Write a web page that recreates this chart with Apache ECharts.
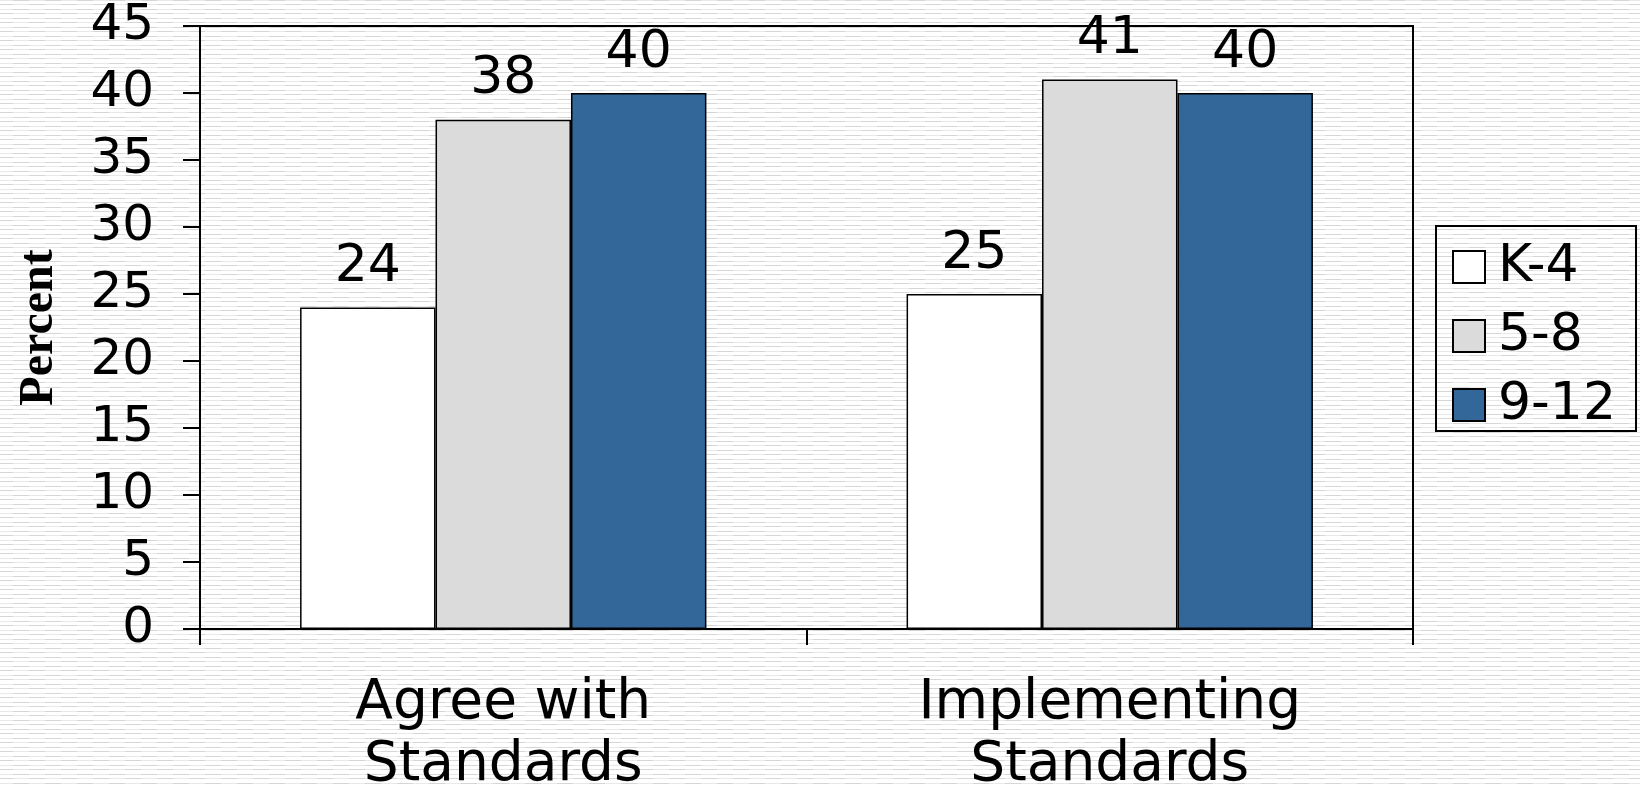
<!DOCTYPE html>
<html>
<head>
<meta charset="utf-8">
<script src="https://cdn.jsdelivr.net/npm/echarts@6/dist/echarts.min.js"></script>
<style>
  html, body { margin: 0; padding: 0; background: #fff; }
  #chart { width: 1640px; height: 787px; }
</style>
</head>
<body>
<div id="chart"></div>
<script>
// Survey results: share of teachers by grade band
const categories = ['Agree with\nStandards', 'Implementing\nStandards'];
const seriesNames = ['K-4', '5-8', '9-12'];
const valuesK4 = [24, 25];
const values58 = [38, 41];
const values912 = [40, 40];
const yTicks = { min: 0, max: 45, step: 5 };

// Narrow horizontal stripe texture behind the chart
function stripeTexture() {
  const c = document.createElement('canvas');
  c.width = 32; c.height = 9;
  const g = c.getContext('2d');
  g.fillStyle = '#ffffff';
  g.fillRect(0, 0, 32, 9);
  [0, 4].forEach(function (y, i) {
    const off = i * 16;
    g.fillStyle = '#e9e9e9';
    g.fillRect(0, y, 32, 1);
    g.fillStyle = '#d6d6d6';
    g.fillRect((off + 13) % 32, y, 16, 1);
    if ((off + 13) % 32 + 16 > 32) g.fillRect(0, y, (off + 13 + 16) % 32, 1);
  });
  return c.toDataURL();
}
const el = document.getElementById('chart');
el.style.backgroundImage = 'url(' + stripeTexture() + ')';
el.style.backgroundRepeat = 'repeat';

const SANS = 'DejaVu Sans';
const colors = ['#ffffff', '#dbdbdb', '#336699'];
const seriesData = [valuesK4, values58, values912];

const chart = echarts.init(el, null, { renderer: 'canvas' });
chart.setOption({
  backgroundColor: 'transparent',
  animation: false,
  grid: {
    left: 200, right: 227, top: 26, bottom: 158,
    outerBoundsMode: 'none',
    containLabel: false,
    show: true, borderColor: '#000', borderWidth: 2, backgroundColor: 'transparent'
  },
  legend: {
    orient: 'vertical',
    left: 1436, top: 226,
    padding: [15, 20, 0, 16],
    itemWidth: 32, itemHeight: 32, itemGap: 17,
    borderColor: '#000', borderWidth: 2,
    icon: 'rect',
    itemStyle: { borderColor: '#000', borderWidth: 2 },
    textStyle: { fontFamily: SANS, fontSize: 52, color: '#000', padding: [0, 0, 0, 8] },
    data: seriesNames
  },
  xAxis: {
    type: 'category',
    data: categories,
    boundaryGap: true,
    axisLine: { lineStyle: { color: '#000', width: 2 } },
    axisTick: { show: true, length: 16, lineStyle: { color: '#000', width: 2 } },
    axisLabel: { fontFamily: SANS, fontSize: 55, color: '#000', lineHeight: 62, margin: 44, interval: 0 }
  },
  yAxis: {
    type: 'value',
    min: yTicks.min, max: yTicks.max, interval: yTicks.step,
    name: 'Percent',
    nameLocation: 'middle',
    nameRotate: 90,
    nameGap: 136,
    nameTextStyle: { fontFamily: 'Liberation Serif', fontWeight: 'bold', fontSize: 48, color: '#000' },
    axisLine: { show: true, lineStyle: { color: '#000', width: 2 } },
    axisTick: { show: true, length: 17, lineStyle: { color: '#000', width: 2 } },
    axisLabel: { fontFamily: SANS, fontSize: 50, color: '#000', margin: 46 },
    splitLine: { show: false }
  },
  series: seriesNames.map(function (name, i) {
    return {
      name: name,
      type: 'bar',
      data: seriesData[i],
      barGap: '0%',
      barCategoryGap: '33%',
      itemStyle: { color: colors[i], borderColor: '#000', borderWidth: 1.5 },
      label: {
        show: true, position: 'top', distance: 14,
        fontFamily: SANS, fontSize: 52, color: '#000'
      }
    };
  })
});
</script>
</body>
</html>
